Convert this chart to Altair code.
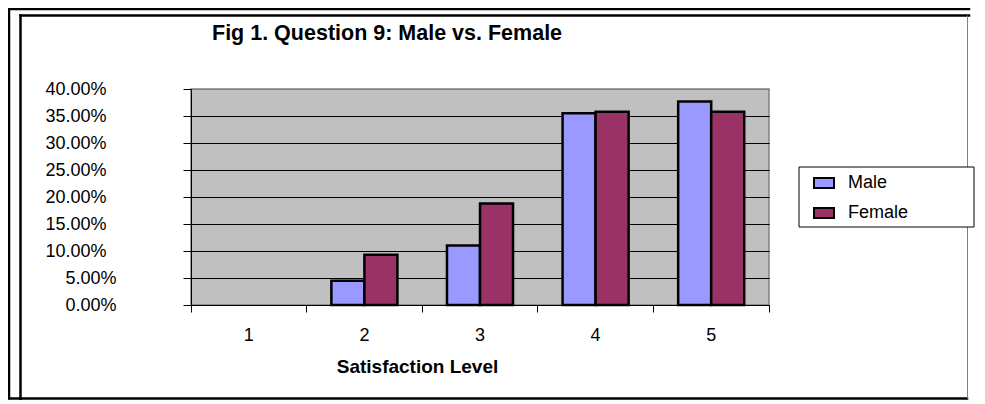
import altair as alt
import pandas as pd

# ---- data ----
levels = ["1", "2", "3", "4", "5"]
series = ["Male", "Female"]
male = [0.0, 0.045, 0.110, 0.355, 0.377]
female = [0.0, 0.093, 0.188, 0.358, 0.358]
colors = ["#9999FF", "#993366"]
y_ticks = [0.0, 0.05, 0.10, 0.15, 0.20, 0.25, 0.30, 0.35, 0.40]
title_text = "Fig 1. Question 9: Male vs. Female"

rows = []
for i, lv in enumerate(levels):
    rows.append({"level": lv, "sex": "Male", "share": male[i]})
    rows.append({"level": lv, "sex": "Female", "share": female[i]})
df = pd.DataFrame(rows)

W, H = 578, 216
FONT = "Liberation Sans"


def hline(x1, x2, y, w=2.5, c="black"):
    return alt.Chart(alt.Data(values=[{}])).mark_rule(
        stroke=c, strokeWidth=w, strokeCap="square"
    ).encode(x=alt.value(x1), x2=alt.value(x2), y=alt.value(y))


def vline(x, y1, y2, w=2.5, c="black"):
    return alt.Chart(alt.Data(values=[{}])).mark_rule(
        stroke=c, strokeWidth=w, strokeCap="square"
    ).encode(x=alt.value(x), y=alt.value(y1), y2=alt.value(y2))


frame = [
    hline(-182, 778, -80),
    vline(-182, -80, 309),
    hline(-182, 776, 309.5),
    hline(-170.5, 778, -73.5),
    vline(-170.5, -73.5, 312),
    vline(776.5, -73, 309, w=1, c="#808080"),
]

legend_box = alt.Chart(alt.Data(values=[{}])).mark_rect(
    fill="white", stroke="black", strokeWidth=1
).encode(x=alt.value(608), x2=alt.value(783), y=alt.value(78), y2=alt.value(138))

title = alt.Chart(alt.Data(values=[{"t": title_text}])).mark_text(
    font=FONT, fontSize=21.5, fontWeight="bold", color="black",
    align="left", baseline="alphabetic"
).encode(text="t:N", x=alt.value(21), y=alt.value(-49))

bars = alt.Chart(df).transform_filter("datum.share > 0").mark_bar(
    stroke="black", strokeWidth=2.5
).encode(
    x=alt.X(
        "level:N",
        sort=levels,
        scale=alt.Scale(domain=levels, paddingInner=0, paddingOuter=0),
        axis=alt.Axis(
            title="Satisfaction Level",
            labelAngle=0,
            bandPosition=1,
            tickExtra=True,
            tickSize=7,
            tickColor="black",
            domainColor="black",
            labelPadding=14,
            labelFontSize=18,
            labelFont=FONT,
            labelColor="black",
            titleFont=FONT,
            titleFontSize=19,
            titleFontWeight="bold",
            titleColor="black",
            titleX=226,
            titleY=67,
            titleBaseline="alphabetic",
            titleAlign="center",
            grid=False,
        ),
    ),
    xOffset=alt.XOffset(
        "sex:N", sort=series,
        scale=alt.Scale(domain=series, paddingInner=0, paddingOuter=0.75)
    ),
    y=alt.Y(
        "share:Q",
        scale=alt.Scale(domain=[0, 0.4], nice=False),
        axis=alt.Axis(
            values=y_ticks,
            format=".2%",
            title=None,
            tickSize=8,
            tickColor="black",
            domainColor="black",
            labelPadding={
                "condition": {"test": "datum.value < 0.1", "value": 67},
                "value": 77,
            },
            labelFontSize=18,
            labelFont=FONT,
            labelColor="black",
            grid=True,
            gridColor={
                "condition": {"test": "datum.value >= 0.4", "value": "#808080"},
                "value": "black",
            },
            gridWidth=1,
        ),
    ),
    color=alt.Color(
        "sex:N",
        sort=series,
        scale=alt.Scale(domain=series, range=colors),
        legend=alt.Legend(
            title=None,
            orient="none",
            legendX=608,
            legendY=78,
            padding=5,
            symbolOffset=9,
            symbolType="M-1,-0.5H1V0.5H-1Z",
            symbolSize=400,
            symbolStrokeColor="black",
            symbolStrokeWidth=2,
            symbolOpacity=1,
            labelOffset=13,
            rowPadding=10,
            labelFont=FONT,
            labelFontSize=18,
            labelColor="black",
        ),
    ),
)

chart = alt.layer(*frame, legend_box, title, bars).properties(
    width=W,
    height=H,
    padding={"left": 183, "top": 81, "right": 208, "bottom": 95},
    autosize=alt.AutoSizeParams(type="none"),
).configure(background="white").configure_view(
    fill="#C0C0C0", stroke="#808080", strokeWidth=1.5
)

chart.save("out.html", embed_options={"renderer": "svg", "actions": False})
